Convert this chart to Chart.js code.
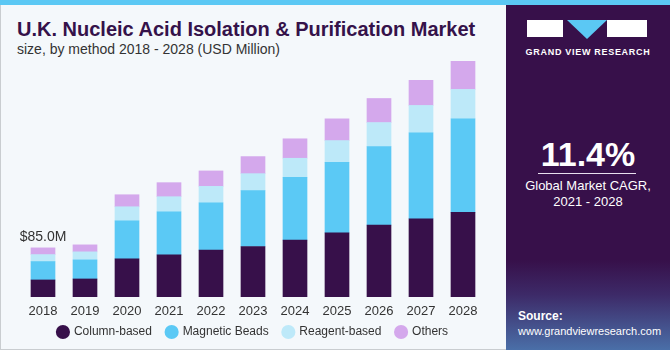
<!DOCTYPE html>
<html>
<head>
<meta charset="utf-8">
<script src="https://cdn.jsdelivr.net/npm/chart.js@4.4.0/dist/chart.umd.min.js"></script>
<style>
  html, body { margin: 0; padding: 0; }
  body { width: 670px; height: 350px; position: relative; overflow: hidden; background: #f4f8fb; font-family: Arial, "Liberation Sans", sans-serif; }
  .frame { position: absolute; left: 0; top: 0; width: 668px; height: 348px; border: 1px solid #c9cdd0; }
  .stripe { position: absolute; left: 0; top: 0; width: 670px; height: 5px; background: #5bc8f4; }
  .title { position: absolute; left: 17px; top: 18px; font-size: 20px; font-weight: bold; color: #35124a; white-space: nowrap; }
  .subtitle { position: absolute; left: 17px; top: 41px; font-size: 14px; color: #333; white-space: nowrap; }
  .chart-box { position: absolute; left: 0; top: 60px; width: 505px; height: 288px; }
  .panel { position: absolute; left: 506px; top: 5px; width: 164px; height: 345px;
           background: linear-gradient(to bottom, #37104a 0%, #37104a 74%, #3d2a68 84%, #4a6fa8 100%); color: #fff; }
  .logo-g { position: absolute; left: 21px; top: 15px; width: 36px; height: 17px; background: #fff; }
  .logo-v { position: absolute; left: 61px; top: 15px; width: 0; height: 0; border-left: 20px solid transparent; border-right: 20px solid transparent; border-top: 19px solid #5bc8f4; }
  .logo-r { position: absolute; left: 101px; top: 15px; width: 40px; height: 17px; background: #fff; }
  .brand { position: absolute; left: 0; width: 164px; top: 42px; text-align: center; font-size: 9px; font-weight: bold; letter-spacing: 0.7px; }
  .cagr { position: absolute; left: 0; width: 164px; top: 130px; text-align: center; font-size: 34px; font-weight: bold; }
  .rule { position: absolute; left: 32px; width: 98px; top: 168px; height: 1px; background: #e8e0ee; }
  .cagr-text { position: absolute; left: 0; width: 164px; top: 173px; text-align: center; font-size: 13px; line-height: 16px; }
  .source { position: absolute; left: 12px; top: 304px; font-size: 11px; line-height: 15px; }
  .source b { font-size: 12px; }
</style>
</head>
<body>
<div class="frame"></div>
<div class="stripe"></div>
<div class="title">U.K. Nucleic Acid Isolation &amp; Purification Market</div>
<div class="subtitle">size, by method 2018 - 2028 (USD Million)</div>
<div class="chart-box"><canvas id="chart"></canvas></div>
<div class="panel">
  <div class="logo-g"></div>
  <div class="logo-v"></div>
  <div class="logo-r"></div>
  <div class="brand">GRAND VIEW RESEARCH</div>
  <div class="cagr">11.4%</div>
  <div class="rule"></div>
  <div class="cagr-text">Global Market CAGR,<br>2021 - 2028</div>
  <div class="source"><b>Source:</b><br>www.grandviewresearch.com</div>
</div>
<script>
// Years on the x axis
const years = ['2018', '2019', '2020', '2021', '2022', '2023', '2024', '2025', '2026', '2027', '2028'];

// Segment values (USD Million)
const columnBased   = [29.5, 31.2, 65.9, 72.9, 81.0, 87.3, 98.4, 111.0, 124.4, 135.3, 146.3];
const magneticBeads = [31.8, 33.0, 65.9, 74.6, 82.1, 96.6, 108.6, 122.0, 135.8, 148.7, 162.0];
const reagentBased  = [12.1, 13.9, 24.3, 26.0, 28.3, 29.5, 33.0, 37.6, 41.6, 47.4, 50.8];
const others        = [11.6, 12.1, 20.8, 24.3, 26.7, 29.5, 33.7, 37.6, 41.6, 43.4, 48.6];

const firstLabel = '$85.0M';

const colors = {
    column: '#37104a',
    magnetic: '#5bc9f5',
    reagent: '#bde9f9',
    others: '#d4a8ec'
};

// draws the "$85.0M" note above the first bar
const firstBarLabel = {
    id: 'firstBarLabel',
    afterDatasetsDraw(chart) {
        const ctx = chart.ctx;
        const total = columnBased[0] + magneticBeads[0] + reagentBased[0] + others[0];
        const x = chart.scales.x.getPixelForValue(0);
        const y = chart.scales.y.getPixelForValue(total);
        ctx.save();
        ctx.font = '14px Arial, "Liberation Sans", sans-serif';
        ctx.fillStyle = '#333';
        ctx.textAlign = 'center';
        ctx.textBaseline = 'bottom';
        ctx.fillText(firstLabel, x, y - 4);
        ctx.restore();
    }
};

const canvas = document.getElementById('chart');
new Chart(canvas, {
    type: 'bar',
    data: {
        labels: years,
        datasets: [
            { label: 'Column-based', data: columnBased, backgroundColor: colors.column },
            { label: 'Magnetic Beads', data: magneticBeads, backgroundColor: colors.magnetic },
            { label: 'Reagent-based', data: reagentBased, backgroundColor: colors.reagent },
            { label: 'Others', data: others, backgroundColor: colors.others }
        ]
    },
    options: {
        responsive: true,
        maintainAspectRatio: false,
        animation: false,
        datasets: {
            bar: { barThickness: 24, borderWidth: 0 }
        },
        layout: {
            padding: { left: 22, right: 21, top: 0, bottom: 0 }
        },
        plugins: {
            legend: {
                position: 'bottom',
                labels: {
                    usePointStyle: true,
                    pointStyle: 'circle',
                    boxWidth: 10,
                    boxHeight: 10,
                    padding: 8,
                    color: '#333',
                    font: { size: 12, family: 'Arial, "Liberation Sans", sans-serif' },
                    generateLabels(chart) {
                        const items = Chart.defaults.plugins.legend.labels.generateLabels(chart);
                        // widen the gap between items a little
                        items.forEach((it, i) => {
                            if (i < items.length - 1) it.text = it.text + '  ';
                        });
                        return items;
                    }
                }
            },
            tooltip: { enabled: false }
        },
        scales: {
            x: {
                stacked: true,
                grid: { display: false },
                border: { display: false },
                ticks: {
                    color: '#333',
                    padding: 0,
                    font: { size: 13, lineHeight: 1, family: 'Arial, "Liberation Sans", sans-serif' }
                }
            },
            y: {
                stacked: true,
                display: false,
                min: 0,
                max: 410
            }
        }
    },
    plugins: [firstBarLabel]
});
</script>
</body>
</html>
